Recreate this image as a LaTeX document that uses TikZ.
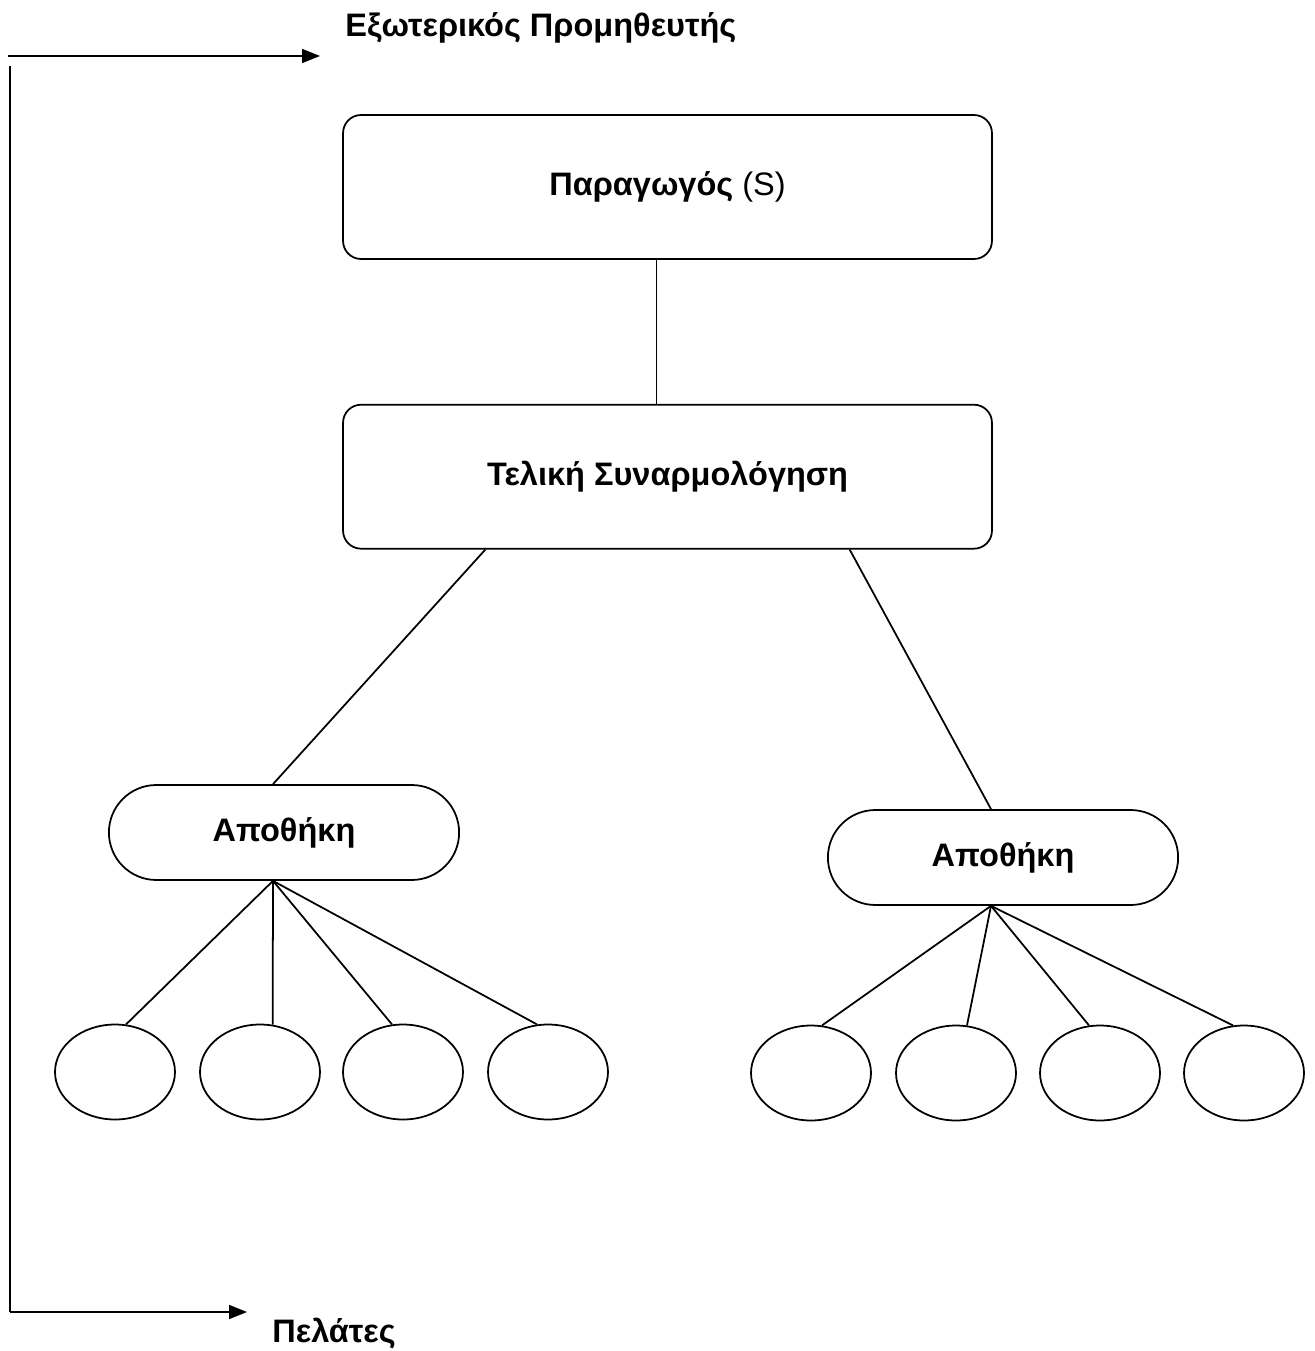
\documentclass[tikz,border=0pt]{standalone}
\usepackage{fontspec}
\setmainfont{Liberation Sans}
\usetikzlibrary{shapes.geometric, shapes.misc, arrows.meta, positioning, calc}

\begin{document}
\begin{tikzpicture}[
    x=0.02cm, y=-0.02cm,
    box/.style={rectangle, draw, rounded corners=0.36cm, minimum width=12.98cm, minimum height=2.88cm, line width=1pt, font=\fontsize{18.5}{22}\selectfont},
    store/.style={rounded rectangle, draw, minimum width=7.24cm, minimum height=1.9cm, line width=1pt, font=\fontsize{18.5}{22}\selectfont\bfseries},
    outlet/.style={ellipse, draw, minimum width=2.4cm, minimum height=1.9cm, inner sep=0pt, line width=1pt},
    caption/.style={font=\fontsize{18.5}{22}\selectfont\bfseries, inner sep=0pt},
    link/.style={line width=1pt},
    arrow/.style={line width=1pt,-{Triangle[length=3.6mm,width=2.8mm]}}
]
\useasboundingbox (0,0) rectangle (1314,1351);

% Chain
\node (prod) [box] at (667.5,187) {\textbf{Παραγωγός} (S)};
\node (assembly) [box, below=2.88cm of prod] {\textbf{Τελική Συναρμολόγηση}};
\node (store1) [store] at (284,832.5) {Αποθήκη};
\node (store2) [store] at (1003,857.5) {Αποθήκη};

% Outlets
\foreach \i/\x in {1/115,2/260,3/403,4/548}
    \node (l\i) [outlet] at (\x,1072) {};
\foreach \i/\x in {1/811,2/956,3/1100,4/1244}
    \node (r\i) [outlet] at (\x,1073) {};

% Supplier and customers
\node (supplier) [caption, anchor=west] at (345,28) {Εξωτερικός Προμηθευτής};
\node (clients) [caption, anchor=west] at (272,1333) {Πελάτες};
\coordinate (feed) at (8,56);
\coordinate (feedend) at (320,56);
\coordinate (railtop) at (10,66);
\coordinate (railbottom) at (10,1312);
\coordinate (railend) at (247,1312);

% Connections
\coordinate (hub1) at ([xshift=-0.22cm]store1.south);
\coordinate (hub2) at ([xshift=-0.24cm]store2.south);
\draw [link] ([xshift=-0.22cm]prod.south) -- ([xshift=-0.22cm]assembly.north);
\draw [link] ($(assembly.south west)!0.22!(assembly.south east)$) -- ([xshift=-0.22cm]store1.north);
\draw [link] ($(assembly.south west)!0.78!(assembly.south east)$) -- ([xshift=-0.24cm]store2.north);
\foreach \i/\a in {1/77,2/75,3/103,4/103}
    \draw [link] (hub1) -- (l\i.\a);
\foreach \i/\a in {1/77,2/77,3/103,4/103}
    \draw [link] (hub2) -- (r\i.\a);
\draw [arrow] (feed) -- (feedend);
\draw [link] (railtop) -- (railbottom);
\draw [arrow] (railbottom) -- (railend);

\end{tikzpicture}
\end{document}
